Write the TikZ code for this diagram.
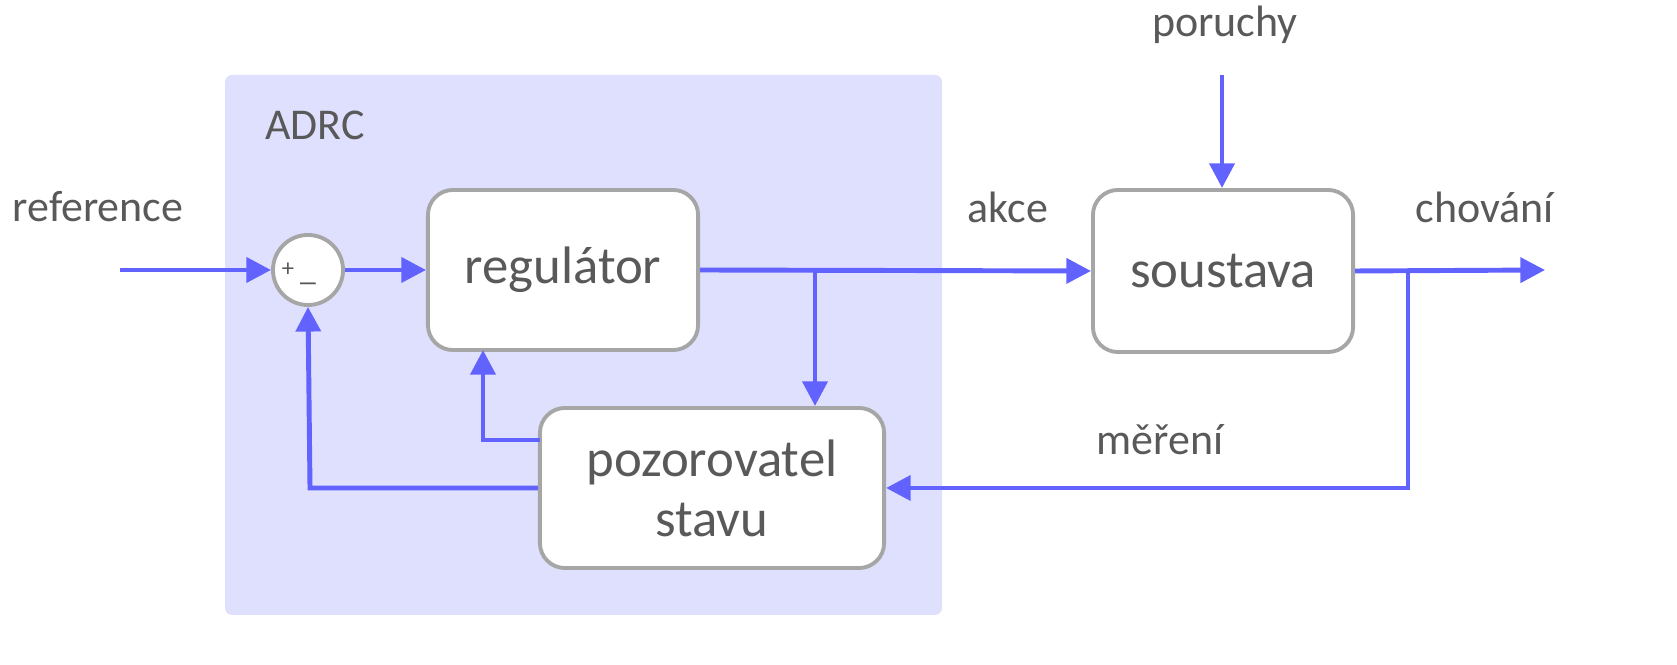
\documentclass[tikz,border=0pt]{standalone}
\usepackage{fontspec}
\setmainfont{Carlito}
\usetikzlibrary{arrows.meta}
\definecolor{bl}{HTML}{6262FF}
\definecolor{bgc}{HTML}{DFE0FD}
\definecolor{txt}{HTML}{595959}
\definecolor{bor}{HTML}{A6A6A6}
\begin{document}
\begin{tikzpicture}[x=0.01cm,y=-0.01cm,
  blk/.style={draw=bor,line width=1.1pt,fill=white,rounded corners=0.25cm,inner sep=0pt,text=txt,font=\fontsize{15}{17}\selectfont,align=center},
  lbl/.style={text=txt,font=\fontsize{12.5}{14}\selectfont,inner sep=0pt},
  ln/.style={draw=bl,line width=1.4pt},
  ar/.style={ln,-{Triangle[length=7pt,width=7pt]}}]
\useasboundingbox (0,0) rectangle (1677,665);
\fill[bgc,rounded corners=2pt] (225,75) rectangle (942,615);
\node[lbl] (adrc) at (315,125) {ADRC};
\node[lbl] (ref) at (98,207) {reference};
\node[lbl] (akce) at (1008,207) {akce};
\node[lbl] (chov) at (1485,207) {chování};
\node[lbl] (por) at (1225,25) {poruchy};
\node[lbl] (mer) at (1160,440) {měření};
\node[circle,draw=bor,line width=1.1pt,fill=white,minimum size=0.7cm,inner sep=0pt] (sum) at (308,270) {};
\node[text=txt,font=\fontsize{7}{8}\selectfont] (plus) at (288,270) {+};
\node[text=txt,font=\fontsize{9}{10}\selectfont] (minus) at (308,283) {\_};
\node[blk,minimum width=2.7cm,minimum height=1.6cm] (reg) at (563,270) {regulátor};
\node[blk,minimum width=2.6cm,minimum height=1.62cm] (sou) at (1223,271) {soustava};
\node[blk,minimum width=3.44cm,minimum height=1.6cm] (poz) at (712,488) {pozorovatel\\stavu};
\coordinate (in) at (120,270);
\coordinate (out) at (1545,270);
\coordinate (pin) at (1222,75);
\coordinate (b1) at (815,270);
\coordinate (b2) at (1408,270);
\draw[ar] (in) -- (sum.west);
\draw[ar] (sum.east) -- (reg.west);
\draw[ar] (reg.east) -- (sou.west);
\draw[ar] (b1) -- (b1 |- poz.north);
\draw[ar] (sou.east) -- (out);
\draw[ar] (b2) -- (1408,488) -- (poz.east);
\draw[ar] (poz.west) -- (310,488) -- (sum.south);
\draw[ar] (540,440) -- (483,440) -- (483,350);
\draw[ar] (pin) -- (sou.north -| pin);
\end{tikzpicture}
\end{document}
